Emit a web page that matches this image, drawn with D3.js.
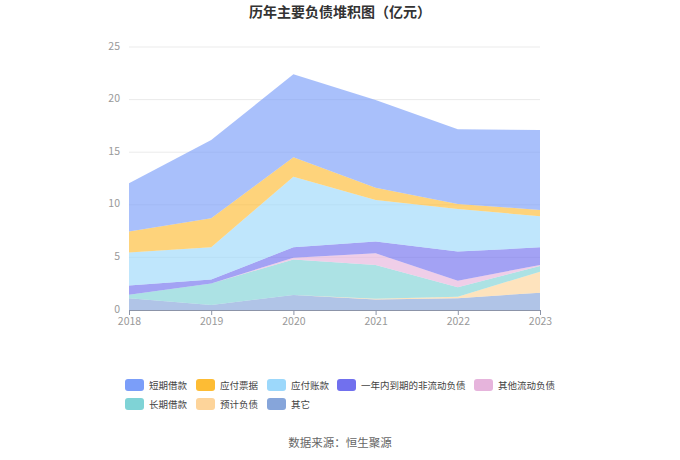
<!DOCTYPE html>
<html><head><meta charset="utf-8">
<script src="https://cdn.jsdelivr.net/npm/d3@7"></script>
<style>
body{margin:0;background:#fff;font-family:"Noto Sans CJK SC","Noto Sans",sans-serif;}
</style></head><body>
<svg id="c" width="680" height="460"></svg>
<script>
const years = ["2018","2019","2020","2021","2022","2023"];
const seriesNames = ["其它","预计负债","长期借款","其他流动负债","一年内到期的非流动负债","应付账款","应付票据","短期借款"];
const other      = [1.11, 0.48, 1.43, 1.01, 1.11, 1.65];
const provisions = [0.00, 0.00, 0.00, 0.05, 0.16, 1.99];
const longLoan   = [0.33, 2.05, 3.38, 3.22, 0.89, 0.54];
const otherCur   = [0.00, 0.00, 0.15, 1.11, 0.63, 0.10];
const dueOneYear = [0.88, 0.38, 1.00, 1.11, 2.76, 1.68];
const payables   = [3.14, 3.05, 6.71, 3.96, 4.05, 2.95];
const notesPay   = [2.00, 2.75, 1.84, 1.17, 0.48, 0.60];
const shortLoan  = [4.59, 7.45, 7.89, 8.33, 7.09, 7.60];
const yTicks = [0, 5, 10, 15, 20, 25];
const colors = {"短期借款":"#7b9ef9","应付票据":"#fdbc34","应付账款":"#9cd8fb","一年内到期的非流动负债":"#7170ee","其他流动负债":"#e6b4dc","长期借款":"#7fd3d6","预计负债":"#fdd49a","其它":"#86a5da"};
const legendOrder = ["短期借款","应付票据","应付账款","一年内到期的非流动负债","其他流动负债","长期借款","预计负债","其它"];

const valuesByName = {"其它":other,"预计负债":provisions,"长期借款":longLoan,"其他流动负债":otherCur,"一年内到期的非流动负债":dueOneYear,"应付账款":payables,"应付票据":notesPay,"短期借款":shortLoan};
const table = years.map((y,i)=>{const r={year:y}; seriesNames.forEach(n=>r[n]=valuesByName[n][i]); return r;});

const svg = d3.select("#c");
const x = d3.scalePoint().domain(years).range([129,540]);
const y = d3.scaleLinear().domain([0,25]).range([310,47]);

// grid
svg.append("g").selectAll("line").data(yTicks.filter(t=>t>0)).join("line")
  .attr("x1",129).attr("x2",540).attr("y1",d=>y(d)).attr("y2",d=>y(d))
  .attr("stroke","#ebebeb").attr("stroke-width",1);

const stack = d3.stack().keys(seriesNames)(table);
const area = d3.area().x(d=>x(d.data.year)).y0(d=>y(d[0])).y1(d=>y(d[1]));
svg.append("g").selectAll("path").data(stack).join("path")
  .attr("d",area).attr("fill",d=>colors[d.key]).attr("fill-opacity",0.65);

// y axis labels
svg.append("g").selectAll("text").data(yTicks).join("text")
  .attr("x",120).attr("y",d=>y(d)+2.5).attr("text-anchor","end")
  .attr("font-size",10.5).attr("fill","#999").text(d=>d);

// x axis
const xa = svg.append("g").attr("transform","translate(0,310)")
  .call(d3.axisBottom(x).tickSize(5).tickSizeOuter(0));
xa.select(".domain").attr("stroke","#8c94a8");
xa.selectAll(".tick line").attr("stroke","#8c94a8");
xa.selectAll(".tick text").attr("fill","#999").attr("font-size",10.5).attr("dy","0.65em")
  .attr("font-family","'Noto Sans CJK SC','Noto Sans',sans-serif");

// title
svg.append("text").attr("x",340).attr("y",17).attr("text-anchor","middle")
  .attr("font-size",14).attr("font-weight","bold").attr("fill","#333").text("历年主要负债堆积图（亿元）");

// legend
const legendPos = [[125,385],[196,385],[267,385],[337,385],[474,385],[125,404],[196,404],[267,404]];
const lg = svg.append("g").selectAll("g").data(legendOrder).join("g")
  .attr("transform",(d,i)=>`translate(${legendPos[i][0]},${legendPos[i][1]})`);
lg.append("rect").attr("x",0).attr("y",-6).attr("width",19).attr("height",12).attr("rx",3)
  .attr("fill",d=>colors[d]);
lg.append("text").attr("x",24).attr("y",3.5).attr("font-size",9.5).attr("fill","#444").text(d=>d);

// source
svg.append("text").attr("x",340).attr("y",447).attr("text-anchor","middle")
  .attr("font-size",11.5).attr("fill","#666").text("数据来源：恒生聚源");
</script>
</body></html>
